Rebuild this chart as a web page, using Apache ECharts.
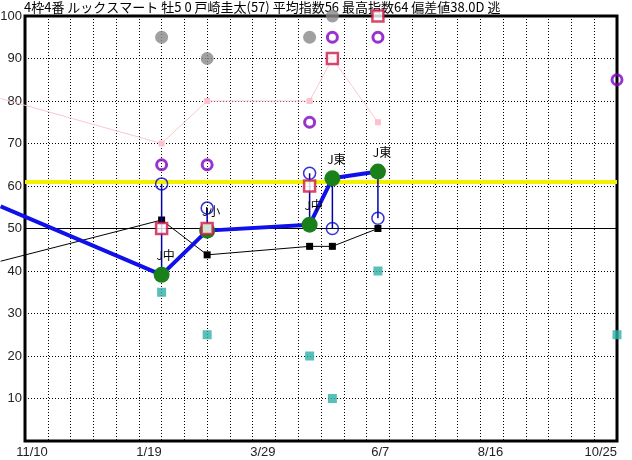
<!DOCTYPE html>
<html>
<head>
<meta charset="utf-8">
<script src="https://cdn.jsdelivr.net/npm/echarts@6/dist/echarts.min.js"></script>
<style>
html,body{margin:0;padding:0;background:#fff;}
#c{width:632px;height:460px;}
</style>
</head>
<body>
<div id="c"></div>
<script>
// x values are days counted from 10/27 (axis start); grid step 14 days
var titleText = '4枠4番 ルックスマート 牡5 0 戸崎圭太(57) 平均指数56 最高指数64 偏差値38.0D 逃';
var xTickValues = [14, 84, 154, 224, 294, 364];
var xTickLabels = ['11/10', '1/19', '3/29', '6/7', '8/16', '10/25'];
var prevDay = -15;                       // where the lines leave the picture on the left
var raceDays = [84, 112, 175, 189, 217]; // races on the chart
var lastDay = 364;                       // upcoming race
var courseLabels = ['J中', 'J小', 'J中', 'J東', 'J東'];

var prevMain = 55.2, prevBlack = 42.3, prevPink = 80.6;
var mainIdx  = [39.1, 49.5, 50.9, 61.8, 63.4];   // thick blue line + green dots
var blackIdx = [52, 43.8, 45.8, 45.8, 50];        // thin black line
var pinkIdx  = [70, 80, 80, 90, 75];              // pink line
var blueCircle = [60.5, 54.8, 63, 50, 52.4];
var grayDots   = [95, 90, 95, 100, null];
var purpleRing = [65, 65, 75, 95, 95];
var redSquare  = [50, 50, 60, 90, 100];
var tealSquare = [35, 25, 20, 10, 40];
var lastPurple = 85, lastTeal = 25;
var avgLine = 61, baseLine = 50;

function pts(days, vals){ var o=[]; for (var i=0;i<days.length;i++){ if(vals[i]!=null) o.push([days[i], vals[i]]); } return o; }
function withLead(v){ return [{value: [prevDay, v], symbol: 'none', label: {show: false}}]; }

var mainData = withLead(prevMain).concat(pts(raceDays, mainIdx));
var blackData = withLead(prevBlack).concat(pts(raceDays, blackIdx));
var pinkData = withLead(prevPink).concat(pts(raceDays, pinkIdx));
var segData = raceDays.map(function(d,i){ return [d, blueCircle[i], mainIdx[i]]; });

// main plot geometry
var GL = 25, GT = 16, GW = 592, GH = 425, XMIN = 0, XMAX = 364;
// an invisible companion grid with the same scale that reaches back to the left edge
var pxPerDay = GW / (XMAX - XMIN);
var G2L = GL - (XMIN - prevDay) * pxPerDay;
var G2W = GW + (XMIN - prevDay) * pxPerDay;

var chart = echarts.init(document.getElementById('c'), null, {renderer:'canvas'});
var option = {
  animation: false,
  backgroundColor: '#fff',
  textStyle: {fontFamily: 'Liberation Sans, Arial, sans-serif'},
  title: {
    text: titleText, left: 24, top: 0, padding: 0,
    textStyle: {fontSize: 13, fontWeight: 'normal', color: '#000', fontFamily: '"Noto Sans CJK JP", sans-serif', lineHeight: 15}
  },
  grid: [
    {left: GL, top: GT, width: GW, height: GH, show: true, borderColor: '#000', borderWidth: 3, backgroundColor: 'transparent', containLabel: false, outerBoundsMode: 'none'},
    {left: G2L, top: GT, width: G2W, height: GH, show: false, containLabel: false, outerBoundsMode: 'none'}
  ],
  xAxis: [{
    type: 'value', min: XMIN, max: XMAX, interval: 14, gridIndex: 0,
    axisLine: {show: false}, axisTick: {show: false},
    axisLabel: {
      color: '#222', fontSize: 13, align: 'right', margin: 5,
      formatter: function(v){ var i = xTickValues.indexOf(v); return i>=0 ? xTickLabels[i] : ''; }
    },
    splitLine: {show: true, lineStyle: {color: '#000', type: [1,2], width: 1}}
  }, {
    type: 'value', min: prevDay, max: XMAX, gridIndex: 1, show: false,
    splitLine: {show: false}
  }],
  yAxis: [{
    type: 'value', min: 0, max: 100, interval: 10, gridIndex: 0,
    axisLine: {show: false}, axisTick: {show: false},
    axisLabel: {color: '#222', fontSize: 13, margin: 3, formatter: function(v){ return v===0 ? '' : String(v); }},
    splitLine: {show: true, lineStyle: {color: '#000', type: [1,2], width: 1}}
  }, {
    type: 'value', min: 0, max: 100, gridIndex: 1, show: false, splitLine: {show: false}
  }],
  series: [
    {
      type: 'line', data: [], silent: true,
      markLine: {
        symbol: 'none', silent: true, label: {show: false},
        data: [
          {yAxis: baseLine, lineStyle: {color: '#000', width: 1, type: 'solid'}},
          {yAxis: avgLine, lineStyle: {color: '#f2f200', width: 4, type: 'solid'}}
        ]
      }
    },
    {
      type: 'line', data: pinkData, xAxisIndex: 1, yAxisIndex: 1, z: 3,
      lineStyle: {color: '#f8c8d0', width: 1},
      symbol: 'rect', symbolSize: 6, itemStyle: {color: '#ffbfcc'}, showSymbol: true
    },
    {
      type: 'line', data: blackData, xAxisIndex: 1, yAxisIndex: 1, z: 4,
      lineStyle: {color: '#000', width: 1},
      symbol: 'rect', symbolSize: 7, itemStyle: {color: '#000'}
    },
    {
      type: 'custom', data: segData, z: 5,
      renderItem: function(params, api){
        var a = api.coord([api.value(0), api.value(1)]);
        var b = api.coord([api.value(0), api.value(2)]);
        return {type: 'line', shape: {x1: a[0], y1: a[1], x2: b[0], y2: b[1]}, style: {stroke: '#0000aa', lineWidth: 1.5}};
      }
    },
    {
      type: 'line', data: mainData, xAxisIndex: 1, yAxisIndex: 1, z: 6,
      lineStyle: {color: '#1010e8', width: 4},
      symbol: 'circle', symbolSize: 16, itemStyle: {color: '#1a801a'},
      label: {
        show: true, position: 'top', offset: [4, 0], color: '#000', fontSize: 12,
        fontFamily: '"Noto Sans CJK JP", sans-serif',
        formatter: function(p){ var i = raceDays.indexOf(p.value[0]); return i>=0 ? courseLabels[i] : ''; }
      }
    },
    {
      type: 'scatter', data: pts(raceDays, tealSquare).concat([[lastDay, lastTeal]]), clip: false, z: 7,
      symbol: 'rect', symbolSize: 9, itemStyle: {color: '#2eb0a8'}
    },
    {
      type: 'scatter', data: pts(raceDays, grayDots), clip: false, z: 8,
      symbol: 'circle', symbolSize: 13, itemStyle: {color: '#888'}
    },
    {
      type: 'scatter', data: pts(raceDays, purpleRing).concat([[lastDay, lastPurple]]), clip: false, z: 9,
      symbol: 'circle', symbolSize: 10, itemStyle: {color: 'rgba(255,255,255,0)', borderColor: '#8000c0', borderWidth: 3}
    },
    {
      type: 'scatter', data: pts(raceDays, blueCircle), clip: false, z: 10,
      symbol: 'circle', symbolSize: 12, itemStyle: {color: 'rgba(255,255,255,0)', borderColor: '#0000cc', borderWidth: 1.5}
    },
    {
      type: 'scatter', data: pts(raceDays, redSquare), clip: false, z: 11,
      symbol: 'rect', symbolSize: 11, itemStyle: {color: '#fff', borderColor: '#cc1848', borderWidth: 2.5}
    }
  ]
};
chart.setOption(option);
</script>
</body>
</html>
